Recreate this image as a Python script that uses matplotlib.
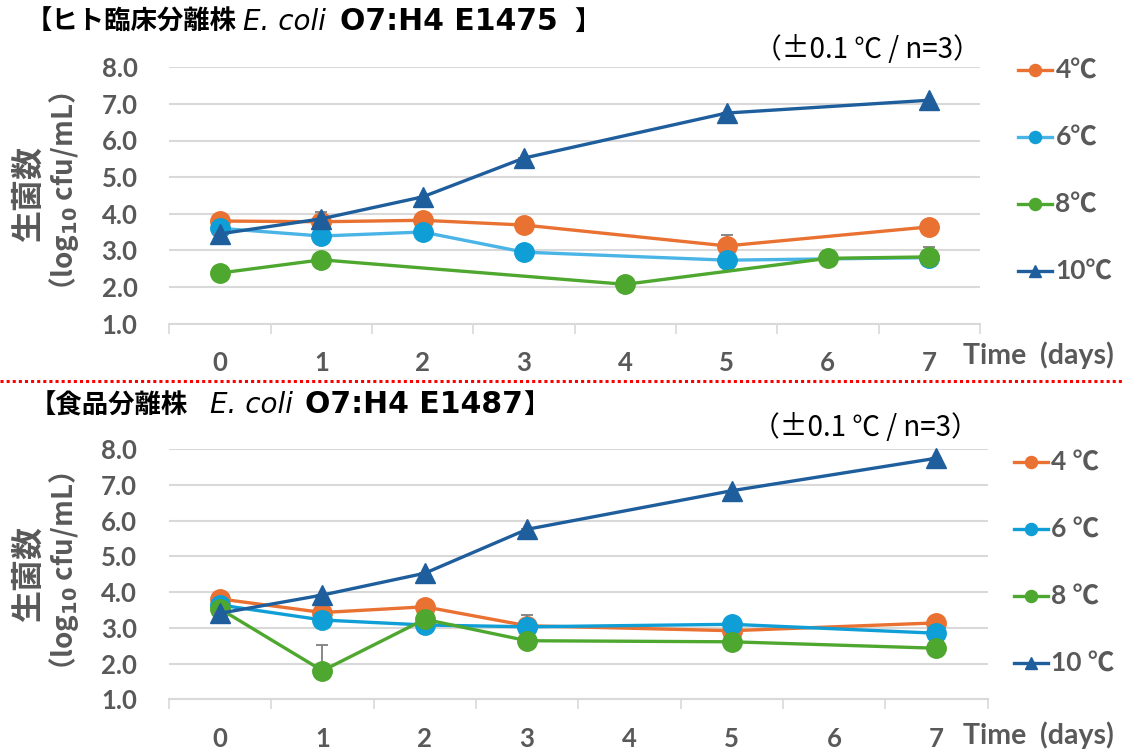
import matplotlib
matplotlib.use("Agg")
import matplotlib.pyplot as plt
from matplotlib.lines import Line2D
from matplotlib.ticker import FixedLocator, NullFormatter

plt.rcParams['font.family'] = ['Lato', 'Noto Sans CJK JP', 'DejaVu Sans']

# ---------------- data ----------------
days_all = [0, 1, 2, 3, 4, 5, 6, 7]
series_labels_top = ['4℃', '6℃', '8℃', '10℃']
series_labels_bot = ['4 ℃', '6 ℃', '8 ℃', '10 ℃']

top_days = [0, 1, 2, 3, 5, 7]
top_days_8 = [0, 1, 4, 6, 7]
top_4 = [3.80, 3.78, 3.82, 3.69, 3.12, 3.64]
top_6 = [3.60, 3.39, 3.50, 2.95, 2.73, 2.80]
top_8 = [2.38, 2.74, 2.07, 2.78, 2.82]
top_10 = [3.45, 3.86, 4.46, 5.52, 6.75, 7.10]
top_err_4 = [0, 0, 0, 0, 0.29, 0]
top_err_6 = [0, 0, 0, 0.20, 0, 0.05]
top_err_8 = [0, 0, 0, 0, 0.27]
top_err_10 = [0, 0.20, 0, 0, 0, 0]

bot_days = [0, 1, 2, 3, 5, 7]
bot_4 = [3.81, 3.43, 3.59, 3.06, 2.92, 3.14]
bot_6 = [3.64, 3.22, 3.08, 3.03, 3.10, 2.85]
bot_8 = [3.53, 1.80, 3.24, 2.64, 2.61, 2.43]
bot_10 = [3.41, 3.92, 4.53, 5.76, 6.84, 7.75]
bot_err_4 = [0, 0, 0, 0, 0, 0]
bot_err_6 = [0, 0, 0, 0.33, 0.18, 0]
bot_err_8 = [0, 0.73, 0, 0, 0, 0]
bot_err_10 = [0, 0, 0, 0, 0, 0]

yticks = [1.0, 2.0, 3.0, 4.0, 5.0, 6.0, 7.0, 8.0]

# ---------------- styles ----------------
C_OR = '#E97132'
C_LB = '#0F9ED5'
C_LB_LINE_TOP = '#4AB4E6'
C_GR = '#4EA72E'
C_DB = '#1F5E9C'
GRAY = '#595959'
GRID = '#D9D9D9'

W, H = 1124, 754
fig = plt.figure(figsize=(W / 100, H / 100), dpi=100)


def px(x, y):
    return x / W, 1 - y / H


def make_axes(rect):
    ax = fig.add_axes(rect)
    ax.set_xlim(-0.5, 7.5)
    ax.set_ylim(1.0, 8.0)
    for s in ['top', 'right', 'left']:
        ax.spines[s].set_visible(False)
    ax.spines['bottom'].set_color(GRID)
    ax.spines['bottom'].set_linewidth(1.5)
    ax.set_yticks(yticks)
    ax.set_yticklabels([f'{v:.1f}' for v in yticks])
    ax.yaxis.grid(True, color=GRID, linewidth=1.5)
    ax.set_axisbelow(True)
    ax.set_xticks(days_all)
    ax.set_xticklabels([str(d) for d in days_all])
    ax.xaxis.set_minor_locator(FixedLocator([d - 0.5 for d in days_all] + [7.5]))
    ax.xaxis.set_minor_formatter(NullFormatter())
    ax.tick_params(axis='x', which='major', length=0, pad=20, labelsize=18.5,
                   labelcolor=GRAY)
    ax.tick_params(axis='x', which='minor', length=7.5, width=1.2, color=GRID)
    ax.tick_params(axis='y', length=0, pad=23, labelsize=18.5, labelcolor=GRAY)
    for lab in ax.get_xticklabels() + ax.get_yticklabels():
        lab.set_fontweight('bold')
    return ax


def plot_series(ax, x, y, err, color, marker, ms, label, z, linecolor=None):
    ax.errorbar(x, y, yerr=[[0] * len(err), err], fmt='none', ecolor='#7F7F7F',
                elinewidth=1.3, capsize=4, capthick=1.3, zorder=z - 0.5)
    ax.plot(x, y, color=linecolor or color, linewidth=2.4, marker=marker,
            markersize=ms, markerfacecolor=color, markeredgecolor=color,
            label=label, zorder=z, clip_on=False)


# top panel
ax1 = make_axes([169.4 / W, 1 - 323.5 / H, (979.8 - 169.4) / W, (323.5 - 67.3) / H])
plot_series(ax1, top_days, top_4, top_err_4, C_OR, 'o', 14, series_labels_top[0], 3)
plot_series(ax1, top_days, top_6, top_err_6, C_LB, 'o', 14, series_labels_top[1], 4,
            linecolor=C_LB_LINE_TOP)
plot_series(ax1, top_days_8, top_8, top_err_8, C_GR, 'o', 14, series_labels_top[2], 5)
plot_series(ax1, top_days, top_10, top_err_10, C_DB, '^', 15, series_labels_top[3], 6)

# bottom panel
ax2 = make_axes([169.0 / W, 1 - 699.3 / H, (987.5 - 169.0) / W, (699.3 - 449.3) / H])
plot_series(ax2, bot_days, bot_4, bot_err_4, C_OR, 'o', 14, series_labels_bot[0], 3)
plot_series(ax2, bot_days, bot_6, bot_err_6, C_LB, 'o', 14, series_labels_bot[1], 4)
plot_series(ax2, bot_days, bot_8, bot_err_8, C_GR, 'o', 14, series_labels_bot[2], 5)
plot_series(ax2, bot_days, bot_10, bot_err_10, C_DB, '^', 15, series_labels_bot[3], 6)

# legends
for ax, (lx, ly) in [(ax1, (1018, 59)), (ax2, (1014, 451))]:
    leg = fig.legend(*ax.get_legend_handles_labels(), loc='upper left',
                     bbox_to_anchor=px(lx, ly), frameon=False, borderpad=0,
                     borderaxespad=0, handlelength=1.3, handletextpad=0.12,
                     labelspacing=1.63, markerscale=0.62,
                     prop={'size': 19, 'weight': 'bold'})
    for t in leg.get_texts():
        t.set_color(GRAY)

# y labels
for yc in (194, 574):
    fig.text(*px(29, yc), '生菌数', rotation=90, ha='center', va='center',
             fontsize=23, fontweight='bold', color=GRAY, family='Noto Sans CJK JP')
    fig.text(*px(64, yc + 5), '（log$_{\\mathbf{10}}$ cfu/mL）', rotation=90,
             ha='center', va='center', fontsize=20, fontweight='bold', color=GRAY,
             family='Noto Sans CJK JP')

# x labels
for yc in (355, 735):
    fig.text(*px(1114, yc), 'Time  (days)', ha='right', va='center', fontsize=20.5,
             fontweight='bold', color=GRAY)

# annotations
for (xr, yc) in [(981, 50), (979, 428)]:
    fig.text(*px(xr, yc), '（±0.1 ℃ / n=3）', ha='right', va='center', fontsize=20,
             color='black', family=['Noto Sans CJK JP', 'DejaVu Sans'])

# titles (pieces placed consecutively)
renderer = fig.canvas.get_renderer()


def place_pieces(x0, ybase, pieces):
    x = x0
    for s, kw, gap in pieces:
        t = fig.text(*px(x, ybase), s, ha='left', va='baseline', **kw)
        bb = t.get_window_extent(renderer)
        x += bb.width + gap


cjk_b = dict(fontsize=19, fontweight='bold', color='black', family='Noto Sans CJK JP')
lat_b = dict(fontsize=21.5, fontweight='bold', color='black', family='DejaVu Sans')
ital = dict(fontsize=20, fontstyle='italic', fontweight='normal', color='black',
            family='DejaVu Sans')
place_pieces(26, 30, [('【ヒト臨床分離株', cjk_b, 6),
                      ('E. coli', ital, 14),
                      ('O7:H4 E1475', lat_b, 16),
                      ('】', cjk_b, 0)])
place_pieces(30, 413, [('【食品分離株', cjk_b, 22),
                       ('E. coli', ital, 12),
                       ('O7:H4 E1487', lat_b, 0),
                       ('】', cjk_b, 0)])

# red dotted separator
fig.add_artist(Line2D([0, 1], [1 - 380.7 / H] * 2, transform=fig.transFigure,
                      color='#FF0000', linewidth=2.2, dashes=(1, 1),
                      dash_capstyle='butt'))

fig.savefig('out.png', dpi=100)
